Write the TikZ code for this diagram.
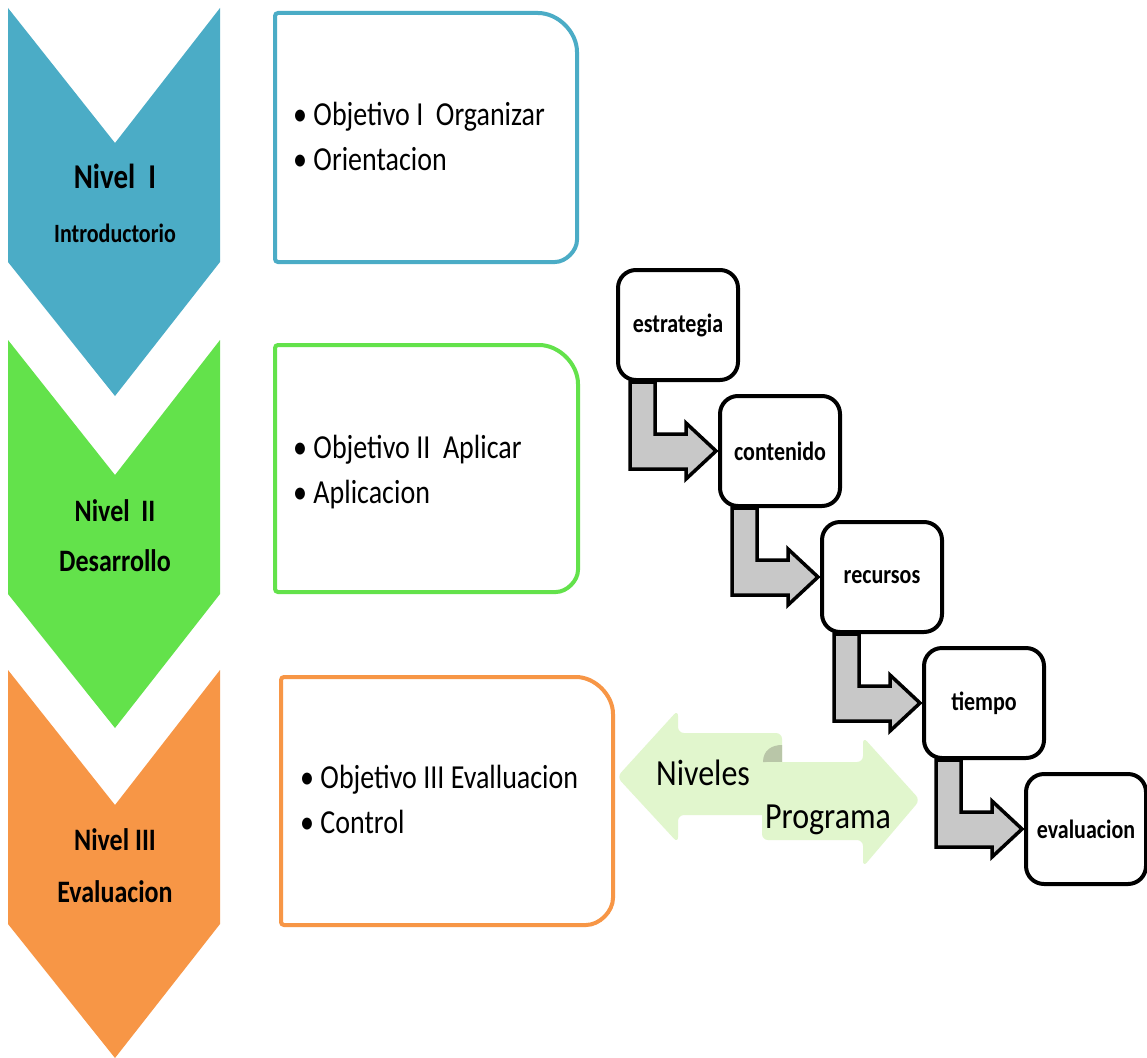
\documentclass[tikz,border=0pt]{standalone}
\usepackage{fontspec}
\setmainfont{Carlito}
\usepackage{graphicx}
\usepackage{xcolor}
\usepackage{tikz}
\usetikzlibrary{calc, backgrounds}

\definecolor{nivblue}{HTML}{4BACC6}
\definecolor{nivgreen}{HTML}{63E24B}
\definecolor{nivorange}{HTML}{F79646}
\definecolor{arrowgray}{HTML}{C8C8C8}
\definecolor{palegreen}{HTML}{E1F6CD}
\definecolor{curlgreen}{HTML}{B9C6A8}

% text is set a little taller than wide, as in the picture
\newcommand{\tall}[1]{\scalebox{1}[1.2]{#1}}
\newcommand{\tallrows}[1]{\scalebox{1}[1.2]{\begin{tabular}[t]{@{}l@{}}#1\end{tabular}}}

\begin{document}
\begin{tikzpicture}[x=1pt, y=-1pt,
                % Define styles
                levtitle/.style={font=\bfseries\fontsize{26}{28}\selectfont, inner sep=0pt, anchor=base},
                levsub/.style={font=\bfseries\fontsize{26}{28}\selectfont, inner sep=0pt, anchor=base},
                objframe/.style={draw=#1, line width=4pt, fill=white, rounded corners=3pt},
                objtext/.style={font=\fontsize{28}{37.5}\selectfont, inner sep=0pt, anchor=base west},
                stepbox/.style={rectangle, draw, line width=4pt, rounded corners=18pt, fill=white, minimum width=120pt, minimum height=110pt, font=\bfseries\fontsize{22}{24}\selectfont},
                bent/.style={fill=arrowgray, draw=black, line width=3.5pt, line join=miter},
                balance/.style={fill=palegreen, rounded corners=6pt},
                balancetext/.style={font=\fontsize{32}{34}\selectfont, inner sep=0pt, anchor=base}
            ]

            \begin{scope}[on background layer]
                \fill[white] (0,0) rectangle (1147,1057);
            \end{scope}
            \useasboundingbox (0,0) rectangle (1147,1057);

            % --- Chevrons ---
            \foreach \col/\tp in {nivblue/8, nivgreen/340, nivorange/670}
                \fill[\col] (8,\tp) -- (115,\tp+135) -- (220,\tp) -- (220,\tp+254) -- (115,\tp+388) -- (8,\tp+254) -- cycle;

            \node [levtitle, font=\bfseries\fontsize{29}{31}\selectfont] (lev1) at (115,188) {\tall{Nivel\ \ I}};
            \node [levsub, font=\bfseries\fontsize{22}{24}\selectfont] (sub1) at (115,242) {\tall{Introductorio}};
            \node [levtitle] (lev2) at (115,521) {\tall{Nivel\ \ II}};
            \node [levsub] (sub2) at (115,571) {\tall{Desarrollo}};
            \node [levtitle] (lev3) at (115,850) {\tall{Nivel III}};
            \node [levsub] (sub3) at (115,902) {\tall{Evaluacion}};

            % --- Objective boxes ---
            \foreach \col/\xa/\ya/\xb/\yb/\rt/\rb in {nivblue/275/13/577/262/42/25, nivgreen/275/345/578/592/42/25, nivorange/281/677/613/925/40/30}
                \draw[objframe=\col] (\xa,{(\ya+\yb)/2}) -- (\xa,\ya) -- (\xb-\rt,\ya)
                    .. controls (\xb-0.45*\rt,\ya) and (\xb,\ya+0.45*\rt) .. (\xb,\ya+\rt)
                    -- (\xb,\yb-\rb)
                    .. controls (\xb,\yb-0.45*\rb) and (\xb-0.45*\rb,\yb) .. (\xb-\rb,\yb)
                    -- (\xa,\yb) -- cycle;

            \node [objtext] (obj1) at (293,125) {\tallrows{\textbullet\ Objetivo I\ \ Organizar\\ \textbullet\ Orientacion}};
            \node [objtext] (obj2) at (293,458) {\tallrows{\textbullet\ Objetivo II\ \ Aplicar\\ \textbullet\ Aplicacion}};
            \node [objtext] (obj3) at (300,788) {\tallrows{\textbullet\ Objetivo III Evalluacion\\ \textbullet\ Control}};

            % --- Program steps ---
            \foreach \lbl [count=\k from 0] in {estrategia, contenido, recursos, tiempo, evaluacion}
                \node [stepbox] (s\k) at (678+102*\k, 325+126*\k) {\tall{\lbl}};

            % --- Bent arrows between steps ---
            \begin{scope}[on background layer]
                \foreach \k in {0,...,3} {
                    \pgfmathtruncatemacro{\nxt}{\k+1}
                    \coordinate (sl) at ($(s\k.south west)+(14,0)$);
                    \coordinate (sr) at ($(s\k.south west)+(39,0)$);
                    \coordinate (tip) at ($(s\nxt.west)+(-2,0)$);
                    \coordinate (hu) at ($(tip)+(-30,-17)$);
                    \coordinate (hd) at ($(tip)+(-30,18)$);
                    \draw[bent] (sl) -- (sr) -- (sr |- hu) -- (hu) -- ++(0,-11) -- (tip)
                        -- ($(tip)+(-30,28)$) -- (hd) -- (sl |- hd) -- cycle;
                }
            \end{scope}

            % --- Balance arrows ---
            \fill[balance] (617,777) -- (678,710) -- (678,733) -- (782,733) -- (782,815) -- (678,815) -- (678,843) -- cycle;
            \fill[curlgreen] (763,762) .. controls (763,750) and (772,745) .. (782,745) -- (782,762) -- cycle;
            \fill[balance] (920,800) -- (863,737) -- (863,762) -- (762,762) -- (762,840) -- (863,840) -- (863,867) -- cycle;

            \node [balancetext] (niv) at (703,785) {\scalebox{1}[1.15]{Niveles}};
            \node [balancetext] (prog) at (828,828) {\scalebox{1}[1.15]{Programa}};

\end{tikzpicture}
\end{document}
